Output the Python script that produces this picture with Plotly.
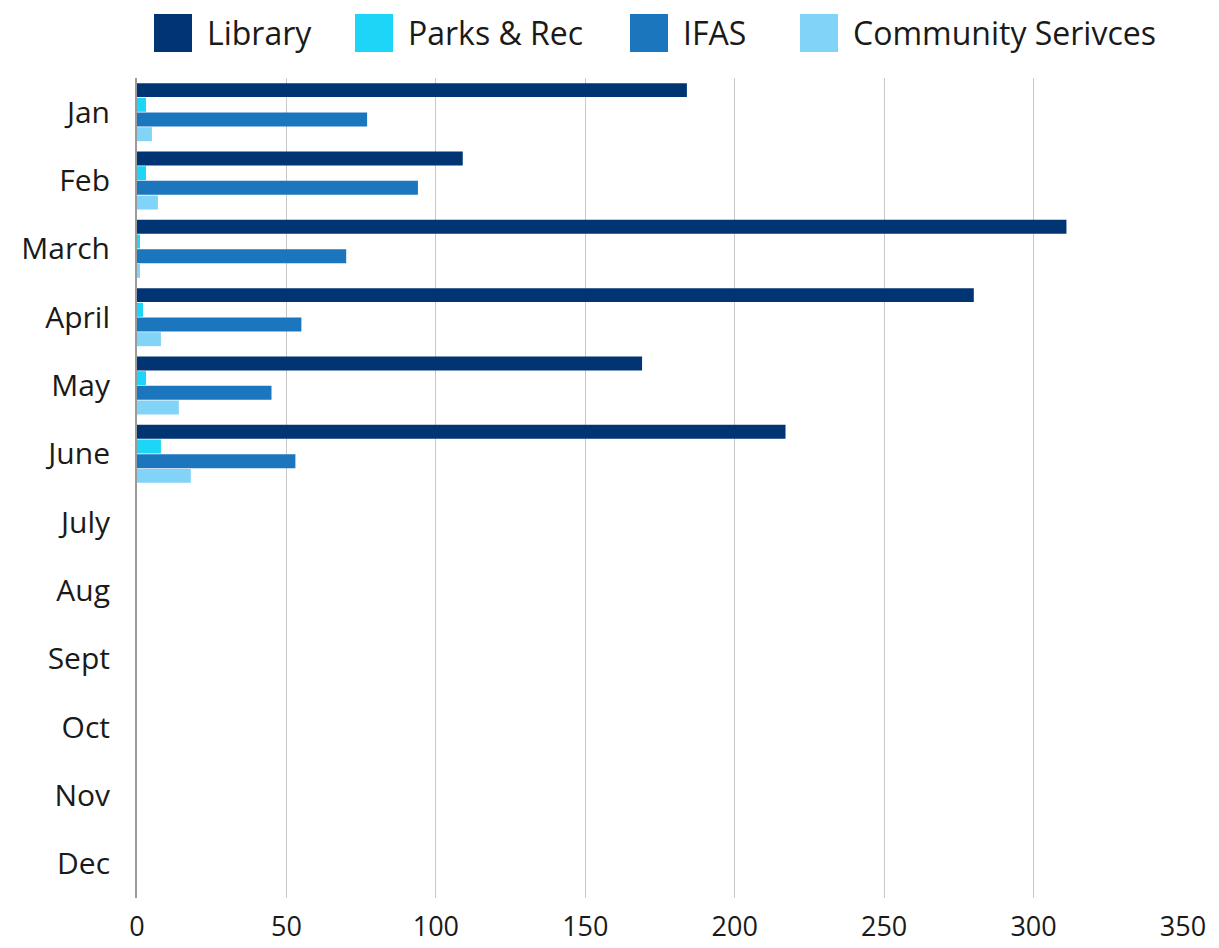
import plotly.graph_objects as go

months = ["Jan", "Feb", "March", "April", "May", "June",
          "July", "Aug", "Sept", "Oct", "Nov", "Dec"]
library = [184, 109, 311, 280, 169, 217, None, None, None, None, None, None]
parks_rec = [3, 3, 1, 2, 3, 8, None, None, None, None, None, None]
ifas = [77, 94, 70, 55, 45, 53, None, None, None, None, None, None]
community = [5, 7, 1, 8, 14, 18, None, None, None, None, None, None]

series = [
    ("Library", library, "#003473"),
    ("Parks & Rec", parks_rec, "#1dd5f6"),
    ("IFAS", ifas, "#1c76bd"),
    ("Community Serivces", community, "#81d4f8"),
]

# the page body adds an 8px margin, so the figure is drawn 8px smaller
OFF = 8
W, H = 1219 - OFF, 948 - OFF
L, R, T, B = 137 - OFF, 36, 78 - OFF, 50
pw, ph = W - L - R, H - T - B

fig = go.Figure()
for name, vals, color in series:
    fig.add_trace(go.Bar(
        y=months, x=vals, name=name, orientation="h",
        marker=dict(color=color, line=dict(width=0)),
    ))

# legend drawn by hand so the swatches are big squares like the original
legend_x = [154, 355, 630, 800]  # swatch left edge on the page, px
shapes, annotations = [], []
for (name, _, color), lx in zip(series, legend_x):
    x0 = lx - OFF
    shapes.append(dict(type="rect", xref="paper", yref="paper",
                       x0=(x0 - L) / pw, x1=(x0 + 38 - L) / pw,
                       y0=(H - B - (52 - OFF)) / ph, y1=(H - B - (14 - OFF)) / ph,
                       fillcolor=color, line=dict(width=0)))
    annotations.append(dict(text=name, xref="paper", yref="paper",
                            x=(x0 + 51 - L) / pw, y=(H - B - (33 - OFF)) / ph,
                            xanchor="left", yanchor="middle", showarrow=False,
                            font=dict(size=32)))

fig.update_layout(
    width=W, height=H,
    barmode="group",
    bargap=0.14, bargroupgap=0.05,
    plot_bgcolor="white", paper_bgcolor="white",
    font=dict(family="Open Sans, sans-serif", size=30, color="#1a1a1a"),
    margin=dict(l=L, r=R, t=T, b=B),
    showlegend=False,
    shapes=shapes, annotations=annotations,
    xaxis=dict(range=[0, 350], dtick=50, showgrid=True, gridcolor="#c8c8c8",
               gridwidth=1.2, zeroline=False, showline=False, ticks="",
               tickfont=dict(size=27), automargin=False, ticklabelstandoff=10),
    yaxis=dict(autorange="reversed", showline=True, linecolor="#9a9a9a",
               linewidth=2, ticks="", showgrid=False, automargin=False,
               ticklabelstandoff=19, tickfont=dict(size=30)),
)

fig.write_html("out.html")
